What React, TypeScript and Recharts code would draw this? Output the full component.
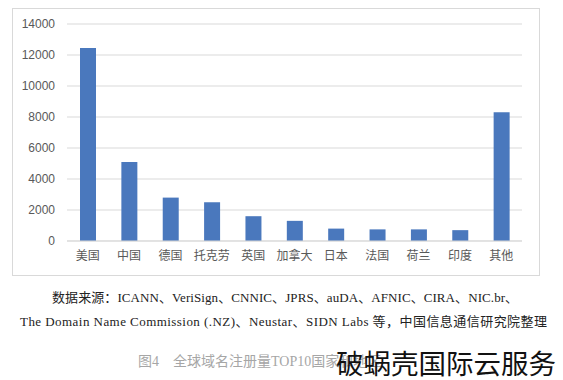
import React from 'react';
import { BarChart, Bar, XAxis, YAxis, CartesianGrid } from 'recharts';

const categories = ['美国', '中国', '德国', '托克劳', '英国', '加拿大', '日本', '法国', '荷兰', '印度', '其他'];
const registrations = [12450, 5100, 2800, 2500, 1600, 1300, 800, 750, 750, 700, 8300];
const yTicks = [0, 2000, 4000, 6000, 8000, 10000, 12000, 14000];

const data = categories.map((name, i) => ({ name, value: registrations[i] }));

const sourceLine1 = '数据来源：ICANN、VeriSign、CNNIC、JPRS、auDA、AFNIC、CIRA、NIC.br、';
const sourceLine2 = 'The Domain Name Commission (.NZ)、Neustar、SIDN Labs 等，中国信息通信研究院整理';
const caption = '图4　全球域名注册量TOP10国家和地区';
const watermark = '破蜗壳国际云服务';

const serif = '"Liberation Serif", "Noto Sans CJK SC", serif';

export default function App() {
  return (
    <div style={{ position: 'absolute', left: 0, top: 0, width: 563, height: 380, background: '#fff', overflow: 'hidden' }}>
      <div style={{ position: 'absolute', left: 12, top: 8, width: 528, height: 268, border: '1px solid #d9d9d9', boxSizing: 'border-box' }}>
        <BarChart width={526} height={266} data={data} margin={{ top: 15, right: 17, bottom: 0, left: 0 }} barSize={16}>
          <CartesianGrid vertical={false} stroke="#d9d9d9" />
          <XAxis
            dataKey="name"
            interval={0}
            height={34}
            tickLine={false}
            tickSize={0}
            tickMargin={10}
            axisLine={{ stroke: '#d9d9d9' }}
            tick={{ fill: '#595959', fontSize: 12, fontFamily: '"Noto Sans CJK SC", sans-serif' }}
          />
          <YAxis
            width={54}
            domain={[0, 14000]}
            ticks={yTicks}
            interval={0}
            tickLine={false}
            axisLine={false}
            tickSize={0}
            tickMargin={12}
            tick={{ fill: '#595959', fontSize: 12, fontFamily: '"Liberation Sans", sans-serif' }}
          />
          <Bar dataKey="value" fill="#4a78bd" isAnimationActive={false} />
        </BarChart>
      </div>
      <div style={{ position: 'absolute', left: 0, width: 563, top: 287, fontFamily: serif, fontSize: 13, color: '#222', whiteSpace: 'nowrap' }}>
        <div style={{ position: 'absolute', left: 52, top: 0, letterSpacing: 0.08 }}>{sourceLine1}</div>
        <div style={{ position: 'absolute', left: 20, top: 24, letterSpacing: 0.45 }}>{sourceLine2}</div>
      </div>
      <div style={{ position: 'absolute', left: 138, top: 350, fontFamily: serif, fontSize: 14, color: '#a6a6a6', whiteSpace: 'nowrap' }}>{caption}</div>
      <div style={{ position: 'absolute', left: 336, top: 343, fontFamily: '"Noto Sans CJK SC", sans-serif', fontSize: 27.5, color: '#111', whiteSpace: 'nowrap', lineHeight: '38px' }}>{watermark}</div>
    </div>
  );
}
